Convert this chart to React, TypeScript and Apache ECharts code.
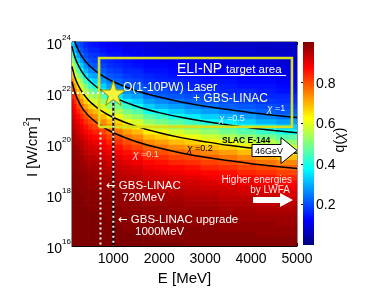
import React, { useEffect, useRef } from "react";
import * as echarts from "echarts";

const FONT = "Liberation Sans, Arial, DejaVu Sans, sans-serif";

// Energy bin edges (MeV) of the q(chi) map, and log10(I) bin edges
const energyEdges = [100, 150, 200, 275, 350, 450, 550, 700, 850, 1000, 1200, 1400, 1650, 1900, 2200, 2550, 2900, 3300, 3700, 4100, 4550, 5000];
const logIEdges = [16, 16.2, 16.4, 16.6, 16.8, 17, 17.2, 17.4, 17.6, 17.8, 18, 18.2, 18.4, 18.6, 18.8, 19, 19.2, 19.4, 19.6, 19.8, 20, 20.2, 20.4, 20.6, 20.8, 21, 21.2, 21.4, 21.6, 21.8, 22, 22.2, 22.4, 22.6, 22.8, 23, 23.2, 23.4, 23.6, 23.8, 24];

// q(chi): one array per energy bin, from I = 1e16 (bottom) to 1e24 (top)
const qColumns = [
  [1, 1, 1, 1, 1, 1, 1, 1, 1, 1, 1, 1, 1, 1, .99, .99, .99, .99, .98, .98, .97, .97, .96, .95, .94, .92, .91, .89, .87, .84, .81, .78, .74, .69, .64, .58, .52, .46, .39, .33],
  [1, 1, 1, 1, 1, 1, 1, 1, 1, 1, 1, 1, .99, .99, .99, .99, .98, .98, .98, .97, .96, .95, .94, .93, .92, .90, .88, .86, .83, .80, .76, .72, .67, .61, .55, .49, .43, .36, .30, .26],
  [1, 1, 1, 1, 1, 1, 1, 1, 1, 1, 1, .99, .99, .99, .99, .98, .98, .97, .97, .96, .95, .94, .92, .91, .89, .87, .84, .81, .78, .74, .69, .64, .58, .52, .46, .39, .33, .28, .24, .21],
  [1, 1, 1, 1, 1, 1, 1, 1, 1, 1, .99, .99, .99, .99, .98, .98, .97, .97, .96, .95, .94, .92, .91, .89, .87, .84, .81, .78, .74, .69, .64, .58, .52, .46, .39, .33, .28, .24, .21, .19],
  [1, 1, 1, 1, 1, 1, 1, 1, .99, .99, .99, .99, .98, .98, .98, .97, .96, .95, .94, .93, .92, .90, .88, .86, .83, .80, .76, .72, .67, .61, .55, .49, .43, .36, .30, .26, .22, .20, .18, .16],
  [1, 1, 1, 1, 1, 1, 1, .99, .99, .99, .99, .98, .98, .98, .97, .96, .95, .94, .93, .92, .90, .88, .86, .83, .80, .76, .72, .67, .61, .55, .49, .43, .36, .30, .26, .22, .20, .18, .16, .15],
  [1, 1, 1, 1, 1, 1, 1, .99, .99, .99, .99, .98, .98, .97, .97, .96, .95, .94, .92, .91, .89, .87, .84, .81, .78, .74, .69, .64, .58, .52, .46, .39, .33, .28, .24, .21, .19, .17, .16, .14],
  [1, 1, 1, 1, 1, 1, .99, .99, .99, .99, .98, .98, .97, .97, .96, .95, .94, .92, .91, .89, .87, .84, .81, .78, .74, .69, .64, .58, .52, .46, .39, .33, .28, .24, .21, .19, .17, .16, .14, .13],
  [1, 1, 1, 1, 1, .99, .99, .99, .99, .98, .98, .97, .97, .96, .95, .94, .92, .91, .89, .87, .84, .81, .78, .74, .69, .64, .58, .52, .46, .39, .33, .28, .24, .21, .19, .17, .16, .14, .13, .12],
  [1, 1, 1, 1, .99, .99, .99, .99, .98, .98, .98, .97, .96, .95, .94, .93, .92, .90, .88, .86, .83, .80, .76, .72, .67, .61, .55, .49, .43, .36, .30, .26, .22, .20, .18, .16, .15, .14, .13, .11],
  [1, 1, 1, .99, .99, .99, .99, .98, .98, .98, .97, .96, .95, .94, .93, .92, .90, .88, .86, .83, .80, .76, .72, .67, .61, .55, .49, .43, .36, .30, .26, .22, .20, .18, .16, .15, .14, .13, .11, .10],
  [1, 1, 1, .99, .99, .99, .99, .98, .98, .97, .97, .96, .95, .94, .92, .91, .89, .87, .84, .81, .78, .74, .69, .64, .58, .52, .46, .39, .33, .28, .24, .21, .19, .17, .16, .14, .13, .12, .11, .10],
  [1, 1, .99, .99, .99, .99, .98, .98, .97, .97, .96, .95, .94, .92, .91, .89, .87, .84, .81, .78, .74, .69, .64, .58, .52, .46, .39, .33, .28, .24, .21, .19, .17, .16, .14, .13, .12, .11, .10, .09],
  [1, .99, .99, .99, .99, .98, .98, .98, .97, .96, .95, .94, .93, .92, .90, .88, .86, .83, .80, .76, .72, .67, .61, .55, .49, .43, .36, .30, .26, .22, .20, .18, .16, .15, .14, .13, .11, .10, .09, .09],
  [1, .99, .99, .99, .99, .98, .98, .97, .97, .96, .95, .94, .92, .91, .89, .87, .84, .81, .78, .74, .69, .64, .58, .52, .46, .39, .33, .28, .24, .21, .19, .17, .16, .14, .13, .12, .11, .10, .09, .08],
  [.99, .99, .99, .99, .98, .98, .98, .97, .96, .95, .94, .93, .92, .90, .88, .86, .83, .80, .76, .72, .67, .61, .55, .49, .43, .36, .30, .26, .22, .20, .18, .16, .15, .14, .13, .11, .10, .09, .09, .08],
  [.99, .99, .99, .99, .98, .98, .97, .97, .96, .95, .94, .92, .91, .89, .87, .84, .81, .78, .74, .69, .64, .58, .52, .46, .39, .33, .28, .24, .21, .19, .17, .16, .14, .13, .12, .11, .10, .09, .08, .08],
  [.99, .99, .99, .98, .98, .98, .97, .96, .95, .94, .93, .92, .90, .88, .86, .83, .80, .76, .72, .67, .61, .55, .49, .43, .36, .30, .26, .22, .20, .18, .16, .15, .14, .13, .11, .10, .09, .09, .08, .07],
  [.99, .99, .99, .98, .98, .97, .97, .96, .95, .94, .92, .91, .89, .87, .84, .81, .78, .74, .69, .64, .58, .52, .46, .39, .33, .28, .24, .21, .19, .17, .16, .14, .13, .12, .11, .10, .09, .08, .08, .07],
  [.99, .99, .98, .98, .98, .97, .96, .95, .94, .93, .92, .90, .88, .86, .83, .80, .76, .72, .67, .61, .55, .49, .43, .36, .30, .26, .22, .20, .18, .16, .15, .14, .13, .11, .10, .09, .09, .08, .07, .07],
  [.99, .99, .98, .98, .97, .97, .96, .95, .94, .92, .91, .89, .87, .84, .81, .78, .74, .69, .64, .58, .52, .46, .39, .33, .28, .24, .21, .19, .17, .16, .14, .13, .12, .11, .10, .09, .08, .08, .07, .07],
];

// Iso-chi contours: log10(I) at each energy
const contourEnergies = [100, 150, 200, 300, 400, 500, 700, 1000, 1500, 2000, 2500, 3000, 3500, 4000, 4500, 5000];
const chi1LogI = [24.44, 24.09, 23.84, 23.48, 23.23, 23.04, 22.75, 22.44, 22.09, 21.84, 21.64, 21.48, 21.35, 21.23, 21.13, 21.04];
const chi05LogI = [23.84, 23.48, 23.23, 22.88, 22.63, 22.44, 22.15, 21.84, 21.48, 21.23, 21.04, 20.88, 20.75, 20.63, 20.53, 20.44];
const chi02LogI = [23.04, 22.69, 22.44, 22.09, 21.84, 21.64, 21.35, 21.04, 20.69, 20.44, 20.24, 20.09, 19.95, 19.84, 19.73, 19.64];
const chi01LogI = [22.44, 22.09, 21.84, 21.48, 21.23, 21.04, 20.75, 20.44, 20.09, 19.84, 19.64, 19.48, 19.35, 19.23, 19.13, 19.04];

const xTicks = [1000, 2000, 3000, 4000, 5000];
const yTicks = [16, 18, 20, 22, 24];
const cbTicks = [0.2, 0.4, 0.6, 0.8];

// ELI-NP target area, the O(1-10PW) laser point and the LINAC energies
const boxEnergy = [690, 4890];
const boxLogI = [20.67, 23.37];
const starPoint = [1000, 22];
const linac720 = 720;
const linac1000 = 1000;
const linac720TopLogI = 20.45;
const linac1000TopLogI = 21.7;
const starDotStartE = 100;
const starDotEndE = 880;

const jetColors = ["#00007f", "#0000ff", "#007fff", "#00ffff", "#7fff7f", "#ffff00", "#ff7f00", "#ff0000", "#7f0000"];

const STAR = "path://M50,2 L61.8,37.6 L99,37.6 L69,59.6 L80.4,95 L50,73 L19.6,95 L31,59.6 L1,37.6 L38.2,37.6 Z";

export default function App() {
  const ref = useRef<HTMLDivElement>(null);
  useEffect(() => {
    if (!ref.current) return;
    const chart = echarts.init(ref.current, undefined, { renderer: "svg" });

    const cells: number[][] = [];
    qColumns.forEach((col, c) => {
      col.forEach((q, r) => {
        cells.push([energyEdges[c], energyEdges[c + 1], logIEdges[r], logIEdges[r + 1], q]);
      });
    });

    const contour = (ys: number[]) => contourEnergies.map((e, i) => [e, ys[i]]);
    const lineSeries = (name: string, data: number[][], extra: any = {}) => ({
      type: "line",
      name,
      xAxisIndex: 0,
      yAxisIndex: 0,
      data,
      symbol: "none",
      silent: true,
      clip: true,
      z: 5,
      ...extra,
    });

    const txt = (x: number, y: number, text: string, size: number, fill: string, extra: any = {}) => ({
      type: "text",
      x,
      y,
      z: 60,
      silent: true,
      style: { text, fontSize: size, lineHeight: size, fill, fontFamily: FONT, verticalAlign: "middle", align: "left", ...extra },
    });
    const chiRich = (fill: string) => ({
      i: { fontStyle: "italic", fontSize: 10, lineHeight: 10, fill, fontFamily: FONT },
      n: { fontSize: 9, lineHeight: 10, fill, fontFamily: FONT },
    });
    const arrowRich = (size: number) => ({
      ar: { fontFamily: "DejaVu Sans", fontSize: size, lineHeight: size, fill: "#fff" },
      t: { fontFamily: FONT, fontSize: size, lineHeight: size, fill: "#fff" },
    });

    const gradStops = jetColors.map((c, i) => ({ offset: i / (jetColors.length - 1), color: c }));

    chart.setOption({
      animation: false,
      textStyle: { fontFamily: FONT },
      grid: [
        { left: 72, top: 42, width: 225, height: 204, show: true, borderColor: "#222", borderWidth: 1, backgroundColor: "transparent" },
        { left: 303, top: 42, width: 11, height: 203 },
      ],
      xAxis: [
        {
          type: "value",
          gridIndex: 0,
          min: 100,
          max: 5000,
          axisLine: { show: true, lineStyle: { color: "#000", width: 1 } },
          axisTick: { show: true, inside: true, length: 3, customValues: xTicks, lineStyle: { color: "#000" } },
          axisLabel: { customValues: xTicks, fontSize: 14, color: "#000", margin: 5, fontFamily: FONT, formatter: (v: number) => String(v) },
          splitLine: { show: false },
          name: "E [MeV]",
          nameLocation: "middle",
          nameGap: 19,
          nameTextStyle: { fontSize: 15, color: "#000", fontFamily: FONT },
        },
        { type: "value", gridIndex: 1, min: 0, max: 1, show: false },
        {
          type: "value",
          gridIndex: 0,
          position: "top",
          min: 100,
          max: 5000,
          axisLine: { show: false },
          axisTick: { show: true, inside: true, length: 3, customValues: xTicks, lineStyle: { color: "#000" } },
          axisLabel: { show: false },
          splitLine: { show: false },
        },
      ],
      yAxis: [
        {
          type: "value",
          gridIndex: 0,
          min: 16,
          max: 24,
          interval: 2,
          axisLine: { show: true, lineStyle: { color: "#000", width: 1 } },
          axisTick: { show: true, inside: true, length: 3, customValues: yTicks, lineStyle: { color: "#000" } },
          splitLine: { show: false },
          axisLabel: {
            margin: 1,
            customValues: yTicks,
            formatter: (v: number) => `{b|10}{s|${v}}`,
            rich: {
              b: { fontSize: 14, color: "#000", fontFamily: FONT, lineHeight: 18, verticalAlign: "bottom" },
              s: { fontSize: 8, color: "#000", fontFamily: FONT, lineHeight: 18, verticalAlign: "top" },
            },
          },
        },
        {
          type: "value",
          gridIndex: 1,
          min: 0,
          max: 1,
          position: "right",
          axisLine: { show: false },
          axisTick: { show: true, inside: true, length: 2, customValues: cbTicks, lineStyle: { color: "#000" } },
          splitLine: { show: false },
          axisLabel: { customValues: cbTicks, fontSize: 14, color: "#000", margin: 2, fontFamily: FONT, formatter: (v: number) => v.toFixed(1) },
        },
        {
          type: "value",
          gridIndex: 0,
          position: "right",
          min: 16,
          max: 24,
          interval: 2,
          axisLine: { show: false },
          axisTick: { show: true, inside: true, length: 3, customValues: yTicks, lineStyle: { color: "#000" } },
          axisLabel: { show: false },
          splitLine: { show: false },
        },
      ],
      visualMap: {
        type: "continuous",
        show: false,
        min: 0,
        max: 1,
        dimension: 4,
        seriesIndex: 0,
        inRange: { color: jetColors },
      },
      series: [
        {
          type: "custom",
          xAxisIndex: 0,
          yAxisIndex: 0,
          clip: true,
          silent: true,
          data: cells,
          encode: { x: [0, 1], y: [2, 3] },
          z: 1,
          renderItem: (params: any, api: any) => {
            const a = api.coord([api.value(0), api.value(2)]);
            const b = api.coord([api.value(1), api.value(3)]);
            return {
              type: "rect",
              shape: { x: a[0], y: b[1], width: b[0] - a[0] + 0.7, height: a[1] - b[1] + 0.7 },
              style: { fill: api.visual("color") },
            };
          },
        },
        {
          type: "custom",
          xAxisIndex: 1,
          yAxisIndex: 1,
          silent: true,
          data: [[0, 1]],
          renderItem: (params: any, api: any) => {
            const a = api.coord([0, api.value(0)]);
            const b = api.coord([1, api.value(1)]);
            return {
              type: "rect",
              shape: { x: a[0], y: b[1], width: b[0] - a[0], height: a[1] - b[1] },
              style: { fill: new echarts.graphic.LinearGradient(0, 1, 0, 0, gradStops) },
            };
          },
        },
        lineSeries("chi=1", contour(chi1LogI), { smooth: 0.3, lineStyle: { color: "#000", width: 1.5 } }),
        lineSeries("chi=0.5", contour(chi05LogI), { smooth: 0.3, lineStyle: { color: "#000", width: 1.5 } }),
        lineSeries("chi=0.2", contour(chi02LogI), { smooth: 0.3, lineStyle: { color: "#000", width: 1.5 } }),
        lineSeries("chi=0.1", contour(chi01LogI), { smooth: 0.3, lineStyle: { color: "#000", width: 1.5 } }),
        lineSeries(
          "ELI-NP box",
          [
            [boxEnergy[0], boxLogI[0]],
            [boxEnergy[1], boxLogI[0]],
            [boxEnergy[1], boxLogI[1]],
            [boxEnergy[0], boxLogI[1]],
            [boxEnergy[0], boxLogI[0]],
          ],
          { lineStyle: { color: "#d6e01c", width: 2.6, join: "miter" }, z: 6 }
        ),
        lineSeries(
          "1000 base",
          [
            [linac1000, linac1000TopLogI],
            [linac1000, 16],
          ],
          { lineStyle: { color: "#000", width: 2 }, z: 7 }
        ),
        lineSeries(
          "1000 MeV",
          [
            [linac1000, linac1000TopLogI],
            [linac1000, 16],
          ],
          { lineStyle: { color: "#fff", width: 2, type: [2, 3] }, z: 8 }
        ),
        lineSeries(
          "720 MeV",
          [
            [linac720, linac720TopLogI],
            [linac720, 16],
          ],
          { lineStyle: { color: "#fff", width: 2, type: [2, 3] }, z: 8 }
        ),
        lineSeries(
          "laser",
          [
            [starDotStartE, starPoint[1]],
            [starDotEndE, starPoint[1]],
          ],
          { lineStyle: { color: "#fff", width: 2, type: [2, 3] }, z: 8 }
        ),
        {
          type: "scatter",
          xAxisIndex: 0,
          yAxisIndex: 0,
          data: [starPoint],
          symbol: STAR,
          symbolSize: 25,
          silent: true,
          z: 9,
          itemStyle: { color: "#f4f43a", borderColor: "#8f8f10", borderWidth: 1, opacity: 1 },
        },
      ],
      graphic: [
        txt(177, 68, "ELI-NP", 14, "#fff"),
        txt(226, 69, "target area", 11.5, "#fff"),
        { type: "line", z: 60, silent: true, shape: { x1: 177, y1: 75.5, x2: 286, y2: 75.5 }, style: { stroke: "#fff", lineWidth: 1.2 } },
        txt(123, 86.5, "O(1-10PW) Laser", 12, "#ffffc4", { lineHeight: 10 }),
        txt(193, 98, "+ GBS-LINAC", 12, "#ffffc4", { lineHeight: 10 }),
        txt(267, 108, "{i|χ}{n| =1}", 9, "#e6eeff", { rich: chiRich("#e6eeff") }),
        txt(219, 118, "{i|χ}{n| =0.5}", 9, "#e6eeff", { rich: chiRich("#e6eeff") }),
        txt(222, 139.5, "SLAC E-144", 8.5, "#000", { fontWeight: "bold" }),
        txt(187, 148, "{i|χ}{n| =0.2}", 9, "#000", { rich: chiRich("#000") }),
        txt(133, 154, "{i|χ}{n| =0.1}", 9, "#ffd6d6", { rich: chiRich("#ffd6d6") }),
        {
          type: "polygon",
          z: 58,
          silent: true,
          shape: { points: [[252, 144.5], [281, 144.5], [281, 137.5], [297, 150.5], [281, 163.5], [281, 156.5], [252, 156.5]] },
          style: { fill: "#fff", stroke: "#000", lineWidth: 1 },
        },
        txt(255, 151, "46GeV", 9, "#000"),
        txt(292, 179, "Higher energies", 10, "#ffe8e8", { align: "right" }),
        txt(290, 189.5, "by LWFA", 10, "#ffe8e8", { align: "right" }),
        {
          type: "polygon",
          z: 58,
          silent: true,
          shape: { points: [[253, 197], [280, 197], [280, 193], [293, 200], [280, 207], [280, 203], [253, 203]] },
          style: { fill: "#fff" },
        },
        txt(106, 184.5, "{ar|←}{t| GBS-LINAC}", 11.5, "#fff", { rich: arrowRich(11.5) }),
        txt(122, 196.5, "720MeV", 11.5, "#fff"),
        txt(118, 219, "{ar|←}{t| GBS-LINAC upgrade}", 11.5, "#fff", { rich: arrowRich(11.5) }),
        txt(135, 231, "1000MeV", 11.5, "#fff"),
        {
          type: "text",
          x: 30,
          y: 147,
          rotation: Math.PI / 2,
          z: 60,
          silent: true,
          style: {
            text: "{a|I [W/cm}{s|2}{a|]}",
            align: "center",
            verticalAlign: "middle",
            rich: {
              a: { fontSize: 15, fill: "#000", fontFamily: FONT, lineHeight: 18, verticalAlign: "bottom" },
              s: { fontSize: 9, fill: "#000", fontFamily: FONT, lineHeight: 18, verticalAlign: "top" },
            },
          },
        },
        {
          type: "text",
          x: 339,
          y: 140,
          rotation: Math.PI / 2,
          z: 60,
          silent: true,
          style: {
            text: "{a|q(}{i|χ}{a|)}",
            align: "center",
            verticalAlign: "middle",
            rich: {
              a: { fontSize: 14, fill: "#000", fontFamily: FONT },
              i: { fontSize: 14, fill: "#000", fontFamily: FONT, fontStyle: "italic" },
            },
          },
        },
      ],
    });
    return () => chart.dispose();
  }, []);
  return <div ref={ref} style={{ position: "fixed", left: 0, top: 0, width: 382, height: 298 }} />;
}
